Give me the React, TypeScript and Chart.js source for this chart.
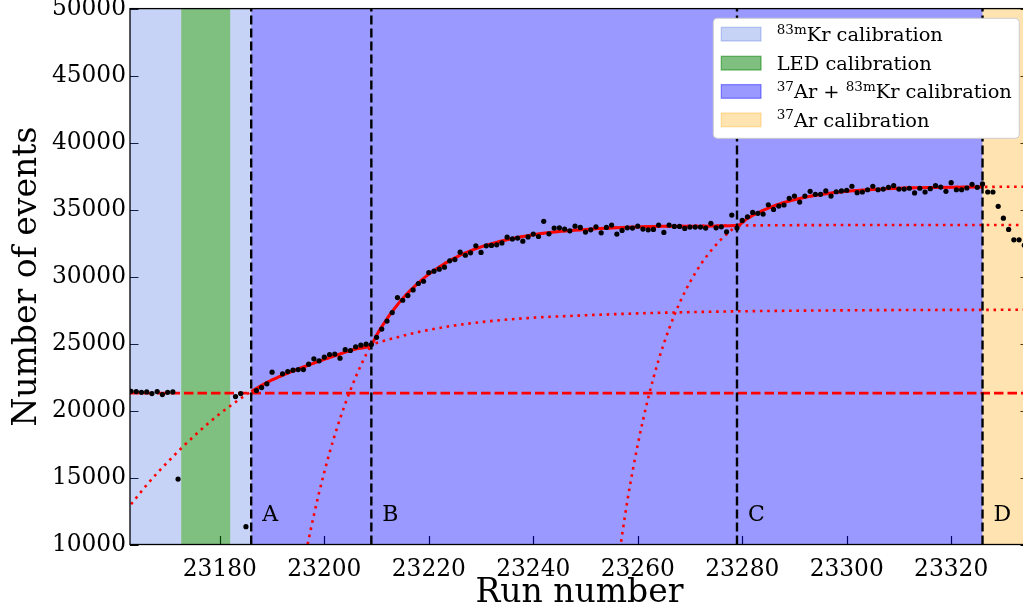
import React, { useEffect, useRef } from "react";
import { Chart, registerables } from "chart.js";

Chart.register(...registerables);

// ---- measured runs ----
const RUNS = [
  23163, 23164, 23165, 23166, 23167, 23168, 23169, 23170, 23171, 23172,
  23183, 23184, 23185,
  23187, 23188, 23189, 23190, 23192, 23193, 23194, 23195, 23196, 23197, 23198,
  23199, 23200, 23201, 23202, 23203, 23204, 23205, 23206, 23207, 23208, 23209,
  23210, 23211, 23212, 23213, 23214, 23215, 23216, 23217, 23218, 23219, 23220,
  23221, 23222, 23223, 23224, 23225, 23226, 23227, 23228, 23229, 23230, 23231,
  23232, 23233, 23234, 23235, 23236, 23237, 23238, 23239, 23240, 23241, 23242,
  23243, 23244, 23245, 23246, 23247, 23248, 23249, 23250, 23251, 23252, 23253,
  23254, 23255, 23256, 23257, 23258, 23259, 23260, 23261, 23262, 23263, 23264,
  23265, 23266, 23267, 23268, 23269, 23270, 23271, 23272, 23273, 23274, 23275,
  23276, 23277, 23278, 23279, 23280, 23281, 23282, 23283, 23284, 23285, 23286,
  23287, 23288, 23289, 23290, 23291, 23292, 23293, 23294, 23295, 23296, 23297,
  23298, 23299, 23300, 23301, 23302, 23303, 23304, 23305, 23306, 23307, 23308,
  23309, 23310, 23311, 23312, 23313, 23314, 23315, 23316, 23317, 23318, 23319,
  23320, 23321, 23322, 23323, 23324, 23325, 23326, 23327, 23328, 23329, 23330,
  23331, 23332, 23333, 23334,
];

const EVENTS = [
  21440, 21415, 21360, 21390, 21265, 21415, 21190, 21360, 21390, 14880,
  21040, 21265, 11330,
  21490, 21710, 21990, 22860, 22740, 22910, 23010, 23060, 23060, 23460, 23860,
  23710, 23980, 24180, 24210, 23910, 24540, 24480, 24760, 24880, 24950, 24930,
  25460, 26080, 26680, 27310, 28430, 28230, 28580, 29000, 29480, 29650, 30300,
  30400, 30550, 30700, 31170, 31270, 31820, 31590, 31770, 32290, 31800, 32290,
  32320, 32370, 32510, 32940, 32810, 32870, 32640, 32960, 33170, 32990, 34120,
  33190, 33620, 33640, 33550, 33410, 33760, 33670, 33320, 33490, 33710, 33260,
  33670, 33840, 33170, 33440, 33640, 33620, 33760, 33540, 33490, 33520, 33840,
  33290, 33840, 33740, 33740, 33590, 33690, 33690, 33690, 33620, 33970, 33640,
  33710, 33340, 34590, 33620, 34190, 34460, 34790, 34720, 34660, 35360, 35010,
  35260, 35340, 35840, 36010, 35560, 36010, 36360, 36140, 36140, 36390, 36010,
  36330, 36390, 36440, 36740, 36260, 36310, 36480, 36740, 36480, 36530, 36660,
  36780, 36530, 36530, 36590, 36240, 36590, 36310, 36560, 36780, 36680, 36360,
  37010, 36480, 36480, 36610, 36890, 36660, 36910, 36310, 36310, 35240, 34360,
  33520, 32740, 32740, 32340,
];

// ---- fit components (sampled) ----
const FIT1_RUNS = [
  23163, 23166, 23168, 23170, 23173, 23176, 23178, 23180, 23182, 23184, 23186,
  23188, 23190, 23193, 23196, 23200, 23203, 23206, 23209, 23213, 23218, 23224,
  23230, 23238, 23247, 23260, 23275, 23290, 23310, 23335,
];
const FIT1_EVENTS = [
  13000, 14450, 15330, 16150, 17330, 18430, 19110, 19760, 20350, 20900, 21420,
  21880, 22280, 22790, 23250, 23820, 24220, 24590, 24930, 25370, 25860, 26290,
  26600, 26880, 27060, 27250, 27380, 27450, 27500, 27520,
];

const FIT2_RUNS = [
  23196, 23197, 23198, 23199, 23200, 23201, 23202, 23203, 23204, 23205, 23206,
  23207, 23208, 23209, 23210, 23211, 23212, 23213, 23215, 23218, 23221, 23225,
  23230, 23235, 23240, 23247, 23255, 23265, 23279, 23300, 23335,
];
const FIT2_EVENTS = [
  8400, 10370, 12190, 13870, 15410, 16850, 18160, 19380, 20500, 21530, 22490,
  23370, 24180, 24930, 25620, 26260, 26850, 27390, 28360, 29530, 30460, 31400,
  32210, 32750, 33120, 33430, 33630, 33750, 33810, 33845, 33850,
];

const FIT3_RUNS = [
  23256, 23258, 23260, 23262, 23264, 23266, 23268, 23270, 23272, 23274, 23276,
  23278, 23279, 23281, 23283, 23285, 23288, 23291, 23295, 23300, 23306, 23313,
  23320, 23326, 23335,
];
const FIT3_EVENTS = [
  8050, 13230, 17450, 20930, 23780, 26100, 28020, 29580, 30870, 31920, 32790,
  33495, 33810, 34330, 34760, 35110, 35530, 35830, 36120, 36360, 36520, 36620,
  36670, 36690, 36710,
];

const BASELINE = 21300;

// ---- calibration periods ----
const BOUNDARY_RUNS = [23186, 23209, 23279, 23326];
const BOUNDARY_NAMES = ["A", "B", "C", "D"];
const LED_RUNS = [23172.6, 23182];

// ---- axes ----
const X_MIN = 23162.8;
const X_MAX = 23334.9;
const Y_MIN = 10000;
const Y_MAX = 50000;
const X_TICKS = [23180, 23200, 23220, 23240, 23260, 23280, 23300, 23320];
const Y_TICKS = [10000, 15000, 20000, 25000, 30000, 35000, 40000, 45000, 50000];

// ---- legend ----
type Part = { text: string; sup?: boolean };
const LEGEND_LABELS: Part[][] = [
  [{ text: "83m", sup: true }, { text: "Kr calibration" }],
  [{ text: "LED calibration" }],
  [{ text: "37", sup: true }, { text: "Ar + " }, { text: "83m", sup: true }, { text: "Kr calibration" }],
  [{ text: "37", sup: true }, { text: "Ar calibration" }],
];

const KR_COLOR = "rgba(65,105,225,0.3)";
const LED_COLOR = "rgba(0,128,0,0.5)";
const ARKR_COLOR = "rgba(0,0,255,0.4)";
const AR_COLOR = "rgba(255,165,0,0.3)";
const LEGEND_COLORS = [KR_COLOR, LED_COLOR, ARKR_COLOR, AR_COLOR];

const FONT = "'DejaVu Serif', 'Liberation Serif', serif";

const toPoints = (xs: number[], ys: number[]) => xs.map((x, i) => ({ x, y: ys[i] }));
const within = (xs: number[], ys: number[], lo: number, hi: number) =>
  toPoints(xs, ys).filter((p) => p.x >= lo && p.x <= hi);

const CANVAS_W = 1045;
const CANVAS_H = 614;
const PLOT_TOP = 8.6;
const PLOT_BOTTOM = 544.5;
const PLOT_LEFT = 130;
const PLOT_RIGHT = 1029;

const decorations = {
  id: "decorations",
  beforeDatasetsDraw(chart: any) {
    const { ctx, chartArea: a, scales } = chart;
    const xs = scales.x;
    const ys = scales.y;
    const tick = 8.5;
    ctx.save();
    // inward tick marks (painted before the shaded periods)
    ctx.strokeStyle = "#000";
    ctx.lineWidth = 1.2;
    ctx.beginPath();
    for (const v of X_TICKS) {
      const px = Math.round(xs.getPixelForValue(v)) + 0.5;
      ctx.moveTo(px, a.bottom);
      ctx.lineTo(px, a.bottom - tick);
    }
    for (const v of Y_TICKS) {
      const py = Math.round(ys.getPixelForValue(v)) + 0.5;
      ctx.moveTo(a.left, py);
      ctx.lineTo(a.left + tick, py);
      ctx.moveTo(a.right, py);
      ctx.lineTo(a.right - tick, py);
    }
    ctx.stroke();

    ctx.beginPath();
    ctx.rect(a.left, a.top, a.right - a.left, a.bottom - a.top);
    ctx.clip();
    const [bA, , , bD] = BOUNDARY_RUNS;
    const bands: [number, number, string][] = [
      [X_MIN, LED_RUNS[0], KR_COLOR],
      [LED_RUNS[0], LED_RUNS[1], LED_COLOR],
      [LED_RUNS[1], bA, KR_COLOR],
      [bA, bD, ARKR_COLOR],
      [bD, X_MAX, AR_COLOR],
    ];
    for (const [lo, hi, color] of bands) {
      const x0 = xs.getPixelForValue(lo);
      const x1 = xs.getPixelForValue(hi);
      ctx.fillStyle = color;
      ctx.fillRect(x0, a.top, x1 - x0, a.bottom - a.top);
    }
    ctx.restore();
  },
  afterDraw(chart: any) {
    const { ctx, chartArea: a, scales } = chart;
    const xs = scales.x;
    ctx.save();
    // frame
    ctx.strokeStyle = "#000";
    ctx.lineWidth = 1.3;
    ctx.strokeRect(a.left, a.top, a.right - a.left, a.bottom - a.top);

    // period names
    ctx.fillStyle = "#000";
    ctx.font = `22px ${FONT}`;
    ctx.textAlign = "left";
    ctx.textBaseline = "alphabetic";
    BOUNDARY_RUNS.forEach((r, i) => {
      ctx.fillText(BOUNDARY_NAMES[i], xs.getPixelForValue(r) + 11, a.bottom - 23.5);
    });

    // legend
    const bx = a.right - 315.7;
    const by = a.top + 9.7;
    const bw = 306;
    const bh = 120;
    ctx.beginPath();
    ctx.roundRect(bx, by, bw, bh, 4);
    ctx.fillStyle = "#fff";
    ctx.fill();
    ctx.strokeStyle = "#cccccc";
    ctx.lineWidth = 1;
    ctx.stroke();
    const baselines = [22.7, 51.7, 80.0, 108.4];
    LEGEND_LABELS.forEach((parts, i) => {
      const base = by + baselines[i];
      ctx.fillStyle = LEGEND_COLORS[i];
      ctx.strokeStyle = LEGEND_COLORS[i];
      ctx.lineWidth = 1.3;
      ctx.fillRect(bx + 8, base - 13.7, 39.7, 13.7);
      ctx.strokeRect(bx + 8, base - 13.7, 39.7, 13.7);
      let cx = bx + 63.4;
      ctx.fillStyle = "#000";
      for (const p of parts) {
        if (p.sup) {
          ctx.font = `13.5px ${FONT}`;
          ctx.fillText(p.text, cx, base - 7.5);
        } else {
          ctx.font = `19.4px ${FONT}`;
          ctx.fillText(p.text, cx, base);
        }
        cx += ctx.measureText(p.text).width;
      }
    });
    ctx.restore();
  },
};

export default function App() {
  const ref = useRef<HTMLCanvasElement | null>(null);

  useEffect(() => {
    document.body.style.overflow = "hidden";
    document.documentElement.style.overflow = "hidden";
    const canvas = ref.current;
    if (!canvas) return;

    const [bA, bB, bC, bD] = BOUNDARY_RUNS;
    const solidFit = [
      ...within(FIT1_RUNS, FIT1_EVENTS, bA, bB),
      ...within(FIT2_RUNS, FIT2_EVENTS, bB, bC).slice(1),
      ...within(FIT3_RUNS, FIT3_EVENTS, bC, bD).slice(1),
    ];

    const dotted = (xs: number[], ys: number[]) => ({
      type: "line" as const,
      data: toPoints(xs, ys),
      borderColor: "#ff0000",
      borderWidth: 2.6,
      borderDash: [2.6, 4.7],
      borderCapStyle: "butt" as const,
      cubicInterpolationMode: "monotone" as const,
      pointRadius: 0,
      fill: false,
      clip: 0,
      order: 4,
    });

    const chart = new Chart(canvas, {
      type: "scatter",
      data: {
        datasets: [
          {
            type: "scatter",
            data: toPoints(RUNS, EVENTS),
            backgroundColor: "#000",
            borderWidth: 0,
            pointRadius: 2.6,
            clip: 0,
            order: 0,
          } as any,
          ...BOUNDARY_RUNS.map((r) => ({
            type: "line" as const,
            data: [
              { x: r, y: Y_MIN },
              { x: r, y: Y_MAX },
            ],
            borderColor: "#000",
            borderWidth: 2.4,
            borderDash: [9, 4],
            borderCapStyle: "butt" as const,
            pointRadius: 0,
            fill: false,
            clip: 0,
            order: 1,
          })),
          {
            type: "line",
            data: solidFit,
            borderColor: "#ff0000",
            borderWidth: 3,
            cubicInterpolationMode: "monotone",
            pointRadius: 0,
            fill: false,
            clip: 0,
            order: 2,
          } as any,
          {
            type: "line",
            data: [
              { x: X_MIN, y: BASELINE },
              { x: X_MAX, y: BASELINE },
            ],
            borderColor: "#ff0000",
            borderWidth: 2.6,
            borderDash: [9.5, 4],
            borderCapStyle: "butt",
            pointRadius: 0,
            fill: false,
            clip: 0,
            order: 3,
          } as any,
          dotted(FIT1_RUNS, FIT1_EVENTS),
          dotted(FIT2_RUNS, FIT2_EVENTS),
          dotted(FIT3_RUNS, FIT3_EVENTS),
        ],
      },
      options: {
        animation: false,
        responsive: false,
        devicePixelRatio: 1,
        events: [],
        layout: { padding: { top: PLOT_TOP, right: CANVAS_W - PLOT_RIGHT, left: 0, bottom: 0 } },
        plugins: { legend: { display: false }, tooltip: { enabled: false } },
        scales: {
          x: {
            type: "linear",
            min: X_MIN,
            max: X_MAX,
            grid: { display: false, drawTicks: false, tickLength: 0 },
            border: { display: false },
            afterBuildTicks: (s: any) => {
              s.ticks = X_TICKS.map((v) => ({ value: v }));
            },
            afterFit: (s: any) => {
              s.height = CANVAS_H - PLOT_BOTTOM;
              s.paddingLeft = 0;
              s.paddingRight = 0;
              s.paddingTop = 0;
              s.paddingBottom = 0;
            },
            ticks: {
              autoSkip: false,
              maxRotation: 0,
              color: "#000",
              padding: 11,
              font: { family: FONT, size: 23.3 },
              callback: (v: any) => String(v),
            },
            title: {
              display: true,
              text: "Run number",
              color: "#000",
              font: { family: FONT, size: 33 },
              padding: { top: 0, bottom: 1 },
            },
          },
          y: {
            type: "linear",
            min: Y_MIN,
            max: Y_MAX,
            grid: { display: false, drawTicks: false, tickLength: 0 },
            border: { display: false },
            afterBuildTicks: (s: any) => {
              s.ticks = Y_TICKS.map((v) => ({ value: v }));
            },
            afterFit: (s: any) => {
              s.width = PLOT_LEFT;
              s.paddingLeft = 0;
              s.paddingRight = 0;
              s.paddingTop = 0;
              s.paddingBottom = 0;
            },
            ticks: {
              autoSkip: false,
              color: "#000",
              padding: 4,
              font: { family: FONT, size: 23.3 },
              callback: (v: any) => String(v),
            },
            title: {
              display: true,
              text: "Number of events",
              color: "#000",
              font: { family: FONT, size: 33 },
              padding: { top: 8, bottom: 0 },
            },
          },
        },
      } as any,
      plugins: [decorations],
    });

    return () => chart.destroy();
  }, []);

  return (
    <div
      style={{
        position: "fixed",
        left: 0,
        top: 0,
        width: 1023,
        height: 614,
        overflow: "hidden",
        background: "#fff",
      }}
    >
      <canvas
        ref={ref}
        width={CANVAS_W}
        height={CANVAS_H}
        style={{ display: "block", width: CANVAS_W, height: CANVAS_H }}
      />
    </div>
  );
}
